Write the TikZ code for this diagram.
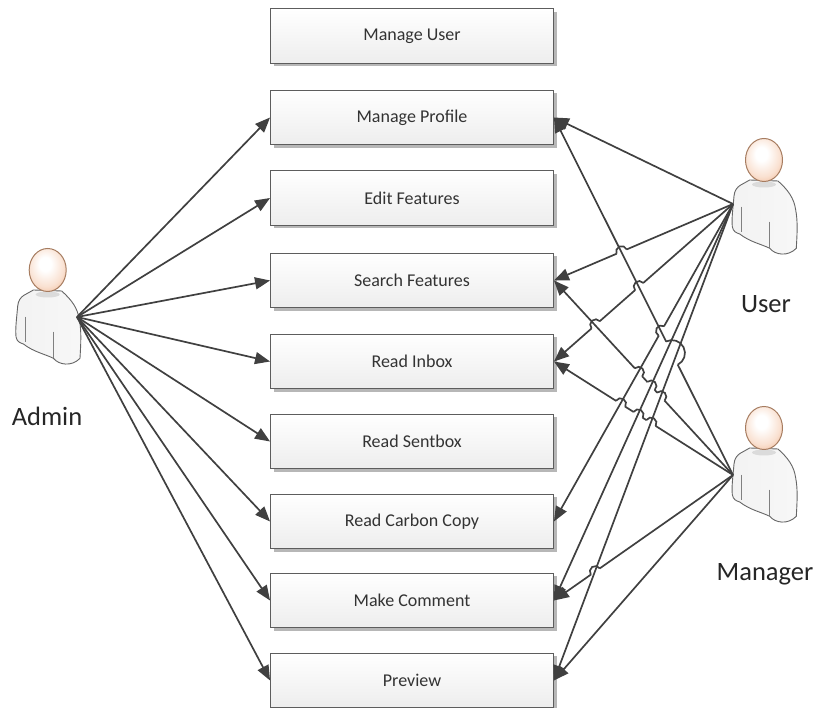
\documentclass[tikz,border=0pt]{standalone}
\usepackage{fontspec}
\setmainfont{Carlito}
\usetikzlibrary{arrows.meta,shadows,decorations.markings}

\definecolor{linegray}{HTML}{404040}
\definecolor{skin}{HTML}{EFA97C}
\definecolor{skinline}{HTML}{A67C60}
\pgfdeclareradialshading{headshade}{\pgfpoint{-4bp}{8bp}}{color(0bp)=(white);color(8bp)=(white);
  color(24bp)=(skin!35!white);color(38bp)=(skin!90!white);color(60bp)=(skin)}

\begin{document}
\begin{tikzpicture}[x=1pt,y=1pt]
\tikzstyle{box}=[draw=linegray!85,line width=0.9pt,minimum width=283pt,minimum height=54.5pt,inner sep=0pt,
  top color=white,bottom color=black!7,text=black!80,font=\fontsize{18}{20}\selectfont,
  drop shadow={shadow xshift=3pt,shadow yshift=-3pt,fill=black!40,opacity=0.7}];
\tikzstyle{actorname}=[text=black!85,font=\fontsize{26.5}{30}\selectfont,inner sep=0pt];
\tikzstyle{conn}=[draw=linegray,line width=1.7pt,-{Triangle[length=15pt,width=12pt]}];
\tikzstyle{hop}=[postaction={decorate,decoration={markings,mark=at position #1 with {
  \draw[white,line width=3pt,-] (-5.2pt,0pt) -- (5.2pt,0pt);
  \draw[draw=linegray,line width=1.7pt,-] (-5.5pt,0pt) arc (180:360:5.5pt);}}}];
\tikzstyle{bighop}=[postaction={decorate,decoration={markings,mark=at position #1 with {
  \draw[white,line width=3pt,-] (-12.7pt,0pt) -- (12.7pt,0pt);
  \draw[draw=linegray,line width=1.7pt,-] (-13pt,0pt) arc (180:360:13pt);}}}];
\tikzset{actor/.pic={
  \draw[draw=black!60,line width=0.9pt,left color=black!5,right color=black!3]
    (-14.3,-20) .. controls (-20,-24) and (-29,-25) .. (-30,-36)
    .. controls (-31,-48) and (-32.5,-58) .. (-31.7,-66.7)
    .. controls (-31,-72) and (-27,-73) .. (-24.3,-74)
    .. controls (-14,-82) and (-3,-84) .. (5.7,-88.3)
    .. controls (11,-95) and (24,-97) .. (32.3,-88.3)
    .. controls (33,-75) and (34,-62) .. (31.7,-50)
    .. controls (30,-38) and (24,-30) .. (14,-21) -- cycle;
  \draw[draw=black!50,line width=0.8pt] (-22.7,-46.7) -- (-22.7,-72) (5.7,-61.7) -- (5.7,-88.3);
  \fill[black!14] (0,-24.5) ellipse (12 and 3);
  \draw[draw=skinline,line width=1pt,shading=headshade] (0,0) ellipse (18.5 and 21.5);
}};

\useasboundingbox (0,0) rectangle (813,708);

\node [box] (mu) at (412,672) {Manage User};
\node [box] (mp) at (412,590.5) {Manage Profile};
\node [box] (ef) at (412,510) {Edit Features};
\node [box] (sf) at (412,427.5) {Search Features};
\node [box] (ri) at (412,346.5) {Read Inbox};
\node [box] (rs) at (412,266.5) {Read Sentbox};
\node [box] (rc) at (412,186.5) {Read Carbon Copy};
\node [box] (mc) at (412,107.5) {Make Comment};
\node [box] (pv) at (412,27.5) {Preview};

\pic at (47.7,438) {actor};
\pic at (764,548) {actor};
\pic at (764,280) {actor};
\node [actorname] (an) at (47,292) {Admin};
\node [actorname] (un) at (766,404) {User};
\node [actorname] (gn) at (765,134) {Manager};

\coordinate (admin) at (77,391);
\coordinate (user) at (733,504);
\coordinate (manager) at (733,233);

\draw [conn] (admin) -- (mp.west); % admin
\draw [conn] (admin) -- (ef.west);
\draw [conn] (admin) -- (sf.west);
\draw [conn] (admin) -- (ri.west);
\draw [conn] (admin) -- (rs.west);
\draw [conn] (admin) -- (rc.west);
\draw [conn] (admin) -- (mc.west);
\draw [conn] (admin) -- (pv.west);

% order matters here, a hop has to lie over the line it jumps
\draw [conn] (user) -- (mp.east);
\draw [conn,hop=.622] (user) -- (sf.east);
\draw [conn,hop=.524,hop=.767] (user) -- (ri.east);
\draw [conn,hop=.403,hop=.458,hop=.528] (manager) -- (sf.east);
\draw [conn,hop=.458,hop=.530,hop=.628] (manager) -- (ri.east);
\draw [conn,hop=.769] (manager) -- (mc.east);
\draw [conn,hop=.40] (user) -- (rc.east);
\draw [conn,bighop=.341] (manager) -- (mp.east);
\draw [conn] (user) -- (mc.east);
\draw [conn] (user) -- (pv.east);
\draw [conn] (manager) -- (pv.east);
\end{tikzpicture}
\end{document}
